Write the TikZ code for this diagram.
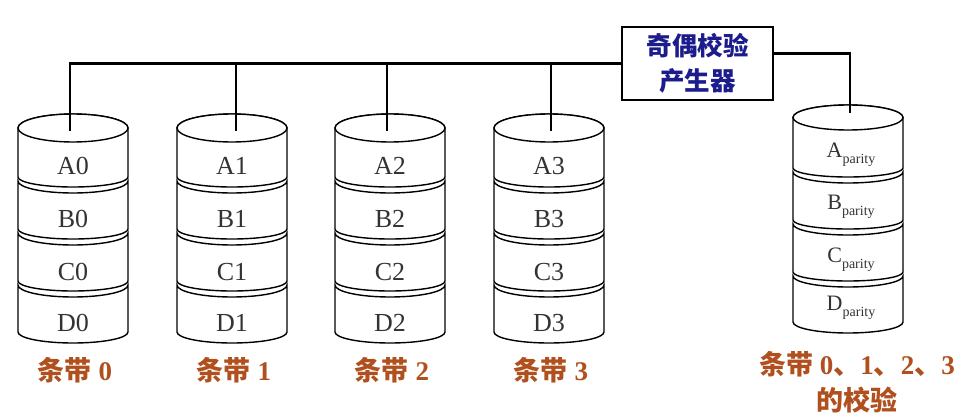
\documentclass[tikz,border=0pt]{standalone}
\usepackage{fontspec}
\setmainfont{Liberation Serif}
\newfontfamily\cjk{Noto Sans CJK SC}
\definecolor{labbrown}{HTML}{B0501E}
\definecolor{boxnavy}{HTML}{1C1C8C}
\newcommand\topseg[5]{% cx, yc, ybot, ry, sag
  \draw[disk] ({#1-55},{-#2}) -- ({#1-55},{-#3}) arc[start angle=180,end angle=360,x radius=55pt,y radius=#5pt] -- ({#1+55},{-#2}) arc[start angle=0,end angle=180,x radius=55pt,y radius=#4pt] -- cycle;
  \draw[disk] (#1,-#2) ellipse[x radius=55pt,y radius=#4pt];}
\newcommand\midseg[5]{% cx, ytop, ybot, topsag, botsag
  \draw[disk] ({#1-55},{-#2}) arc[start angle=180,end angle=360,x radius=55pt,y radius=#4pt] -- ({#1+55},{-#3}) arc[start angle=0,end angle=-180,x radius=55pt,y radius=#5pt] -- cycle;}
\newcommand\psub[1]{#1\raisebox{-0.28em}{\fontsize{14}{14}\selectfont parity}}
\begin{document}
\begin{tikzpicture}[x=1pt,y=1pt,
  disk/.style={draw=black,fill=white,line width=1.4pt},
  bus/.style={draw=black,line width=2.2pt},
  dlab/.style={font=\fontsize{26}{26}\selectfont,text=black!80,inner sep=0pt},
  plab/.style={font=\fontsize{22}{22}\selectfont,text=black!80,inner sep=0pt},
  slab/.style={font=\fontsize{27}{36}\selectfont\bfseries,text=labbrown,inner sep=0pt,align=center},
  genbox/.style={draw=black,line width=1.8pt,fill=white,minimum width=151pt,minimum height=73pt,inner sep=0pt,align=center,text=boxnavy,font=\cjk\bfseries\fontsize{25.5}{35}\selectfont}]
\useasboundingbox[fill=white] (0,0) rectangle (978,-420);
% generator box
\node[genbox] (box) at (697.5,-63.5) {奇偶校验\\产生器};
% data disks
\foreach \cx/\tx/\i/\j in {73/70/0/0, 232/236/1/1, 390/387/2/2, 549/551/3/3} {
  \topseg{\cx}{128}{177}{14}{10}
  \midseg{\cx}{181}{229}{12}{10}
  \midseg{\cx}{233}{281}{12}{10}
  \midseg{\cx}{285}{332}{12}{11}
  \node[dlab] (a\i) at (\cx,-166) {A\j};
  \node[dlab] (b\i) at (\cx,-219) {B\j};
  \node[dlab] (c\i) at (\cx,-272) {C\j};
  \node[dlab] (d\i) at (\cx,-323) {D\j};
  \node[slab] (s\i) at (\cx+2,-370) {{\cjk 条带} \j};
  \coordinate (t\i) at (\tx,-131);
}
% parity disk
\topseg{848}{117.5}{168}{12.5}{9}
\midseg{848}{172}{220}{11}{9}
\midseg{848}{224}{272}{11}{9}
\midseg{848}{276}{322}{11}{11}
\node[plab] (pa) at (851,-155) {\psub{A}};
\node[plab] (pb) at (851,-207) {\psub{B}};
\node[plab] (pc) at (851,-260) {\psub{C}};
\node[plab] (pd) at (851,-308) {\psub{D}};
\node[slab] (sp) at (857,-382) {{\cjk 条带} 0{\cjk 、}1{\cjk 、}2{\cjk 、}3\\{\cjk 的校验}};
\coordinate (tp) at (850,-113);
% connectors
\draw[bus] (box.west) -| (t0);
\foreach \i in {1,2,3} { \draw[bus] (t\i |- box.west) -- (t\i); }
\draw[bus] ([yshift=10pt]box.east) -| (tp);
\end{tikzpicture}
\end{document}
